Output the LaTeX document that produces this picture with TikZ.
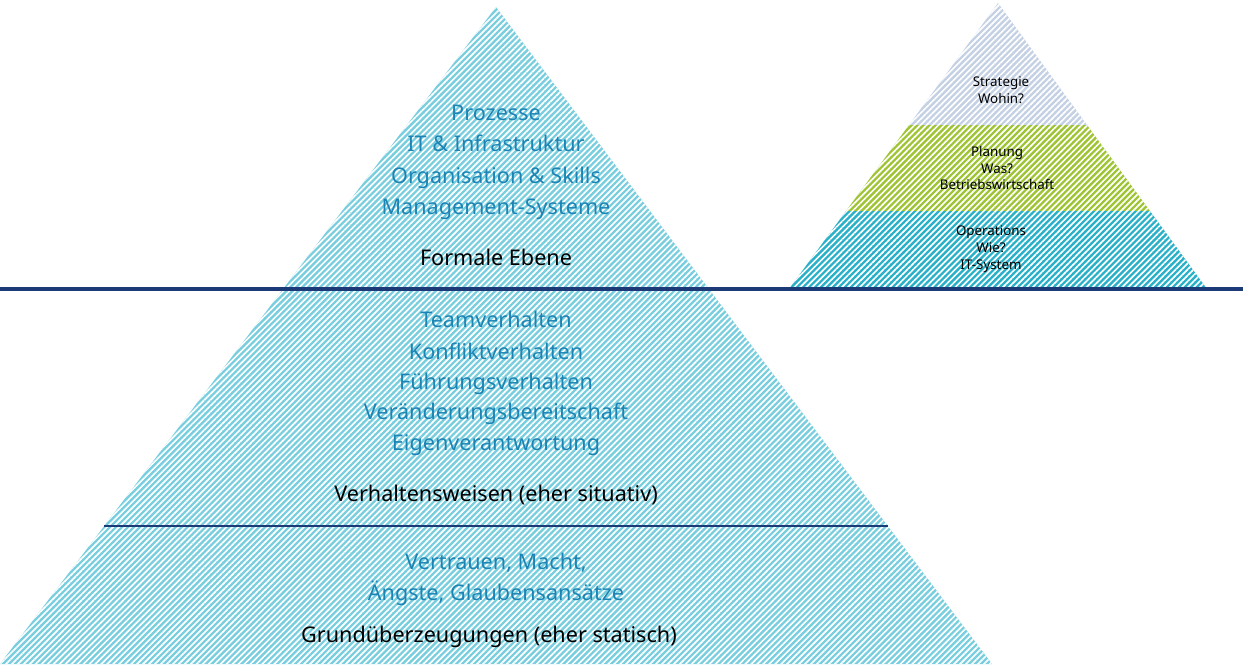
\documentclass[tikz,border=0pt]{standalone}
\usepackage{fontspec}
\setmainfont{Noto Sans}
\usetikzlibrary{patterns.meta}

\definecolor{pyrblue}{RGB}{120,206,222}
\definecolor{txtblue}{RGB}{28,132,180}
\definecolor{navy}{RGB}{28,58,120}
\definecolor{strgray}{RGB}{196,208,228}
\definecolor{plangreen}{RGB}{158,196,52}
\definecolor{opteal}{RGB}{40,176,200}

\tikzset{
  hatch/.style={preaction={fill=#1},
    pattern={Lines[angle=45,distance=2.4pt,line width=0.95pt]},pattern color=white},
  bluetxt/.style={text=txtblue,font=\fontsize{12.3}{14}\selectfont,
    text height=11pt,text depth=1.5pt},
  blacktxt/.style={text=black,font=\fontsize{12.3}{14}\selectfont,
    text height=11pt,text depth=1.5pt},
  smalltxt/.style={text=black,font=\fontsize{7.6}{9.6}\selectfont,align=center}
}

\begin{document}
\begin{tikzpicture}[x=0.02cm,y=-0.02cm]
\useasboundingbox (0,0) rectangle (1243,664);
% big pyramid
\fill[hatch=pyrblue] (496,7) -- (992,664) -- (0,664) -- cycle;
% small pyramid, three bands
\fill[hatch=strgray] (998,3) -- (1087,125) -- (909,125) -- cycle;
\fill[hatch=plangreen] (909,125) -- (1087,125) -- (1150,211) -- (846,211) -- cycle;
\fill[hatch=opteal] (846,211) -- (1150,211) -- (1207,289) -- (789,289) -- cycle;
% dividing lines
\draw[navy,line width=2.3pt] (0,289) -- (1243,289);
\draw[navy,line width=1.1pt] (104,526) -- (888,526);

% formal level
\node[bluetxt] (proz) at (496,112) {Prozesse};
\node[bluetxt] (it) at (496,143) {IT \& Infrastruktur};
\node[bluetxt] (orga) at (496,175) {Organisation \& Skills};
\node[bluetxt] (mgmt) at (496,206) {Management-Systeme};
\node[blacktxt] (formal) at (496,257) {Formale Ebene};
% behaviour
\node[bluetxt] (team) at (496,319) {Teamverhalten};
\node[bluetxt] (konf) at (496,351) {Konfliktverhalten};
\node[bluetxt] (fuehr) at (496,381) {Führungsverhalten};
\node[bluetxt] (veraend) at (496,411) {Veränderungsbereitschaft};
\node[bluetxt] (eigen) at (496,442) {Eigenverantwortung};
\node[blacktxt] (verh) at (496,493) {Verhaltensweisen (eher situativ)};
% beliefs
\node[bluetxt] (vertr) at (496,561) {Vertrauen, Macht,};
\node[bluetxt] (aengste) at (496,592) {Ängste, Glaubensansätze};
\node[blacktxt] (grund) at (489,634) {Grundüberzeugungen (eher statisch)};

% small pyramid labels
\node[smalltxt] (strat) at (1001,90) {Strategie\\Wohin?};
\node[smalltxt] (plan) at (997,168) {Planung\\Was?\\Betriebswirtschaft};
\node[smalltxt] (oper) at (991,249) {Operations\\Wie?\\IT-System};
\end{tikzpicture}
\end{document}
